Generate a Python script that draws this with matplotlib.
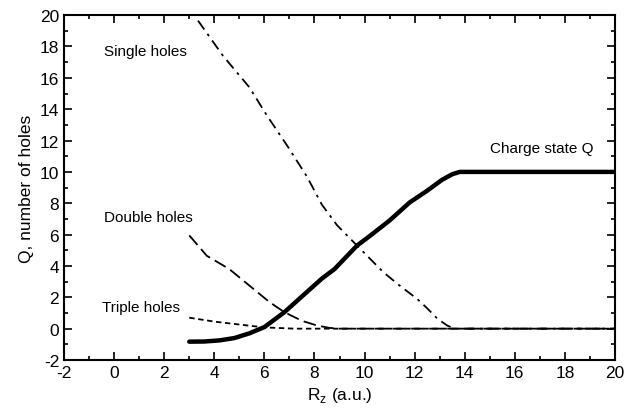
import matplotlib.pyplot as plt
from matplotlib.ticker import MultipleLocator

plt.rcParams['font.family'] = ['Liberation Sans', 'DejaVu Sans']
plt.rcParams['axes.unicode_minus'] = False

# Single holes (dash-dot)
single_x = [3.35, 4.35, 5.4, 6.1, 6.9, 7.7, 8.3, 8.9, 9.7, 10.75, 11.4, 12.1, 12.5, 12.9, 13.3, 13.6, 20.0]
single_y = [19.65, 17.4, 15.4, 13.6, 11.7, 9.7, 7.9, 6.6, 5.3, 3.6, 2.75, 1.9, 1.3, 0.65, 0.2, 0.0, 0.0]

# Double holes (dashed)
double_x = [3.0, 3.7, 4.6, 5.4, 6.2, 6.8, 7.5, 8.1, 8.6, 9.0, 20.0]
double_y = [5.95, 4.65, 3.8, 2.75, 1.7, 1.05, 0.5, 0.2, 0.05, 0.0, 0.0]

# Triple holes (short dashes)
triple_x = [3.0, 3.2, 4.0, 4.8, 6.0, 7.2, 20.0]
triple_y = [0.7, 0.65, 0.45, 0.3, 0.08, 0.0, 0.0]

# Charge state Q (thick solid)
q_x = [3.0, 3.6, 4.2, 4.8, 5.4, 6.0, 6.8, 7.6, 8.3, 8.8, 9.7, 10.2, 11.0, 11.8, 12.5, 13.1, 13.5, 13.8, 14.1, 20.0]
q_y = [-0.83, -0.82, -0.75, -0.6, -0.3, 0.1, 1.05, 2.2, 3.2, 3.8, 5.3, 5.9, 6.9, 8.05, 8.8, 9.5, 9.85, 10.0, 10.0, 10.0]

fig = plt.figure(figsize=(6.34, 4.14), dpi=100)
ax = fig.add_axes([0.101, 0.128, 0.869, 0.833])

ax.plot(single_x, single_y, color='black', lw=1.3, dashes=(6, 3, 1.5, 3))
ax.plot(double_x, double_y, color='black', lw=1.3, dashes=(7, 3))
ax.plot(triple_x, triple_y, color='black', lw=1.3, dashes=(3, 2))
ax.plot(q_x, q_y, color='black', lw=3.2, solid_capstyle='round', solid_joinstyle='round')

ax.text(-0.4, 17.7, 'Single holes', fontsize=11, va='center')
ax.text(-0.4, 7.1, 'Double holes', fontsize=11, va='center')
ax.text(-0.5, 1.4, 'Triple holes', fontsize=11, va='center')
ax.text(15.0, 11.5, 'Charge state Q', fontsize=11, va='center')

ax.set_xlim(-2, 20)
ax.set_ylim(-2, 20)
ax.xaxis.set_major_locator(MultipleLocator(2))
ax.xaxis.set_minor_locator(MultipleLocator(1))
ax.yaxis.set_major_locator(MultipleLocator(2))
ax.yaxis.set_minor_locator(MultipleLocator(1))
ax.tick_params(which='both', direction='in', top=True, right=True, width=1.2, labelsize=12.5)
ax.tick_params(which='major', length=6)
ax.tick_params(which='minor', length=3)
for s in ax.spines.values():
    s.set_linewidth(1.5)

ax.set_xlabel('R$_\\mathregular{z}$ (a.u.)', fontsize=12.5)
ax.set_ylabel('Q, number of holes', fontsize=12.5)

fig.savefig('out.png', dpi=100)
